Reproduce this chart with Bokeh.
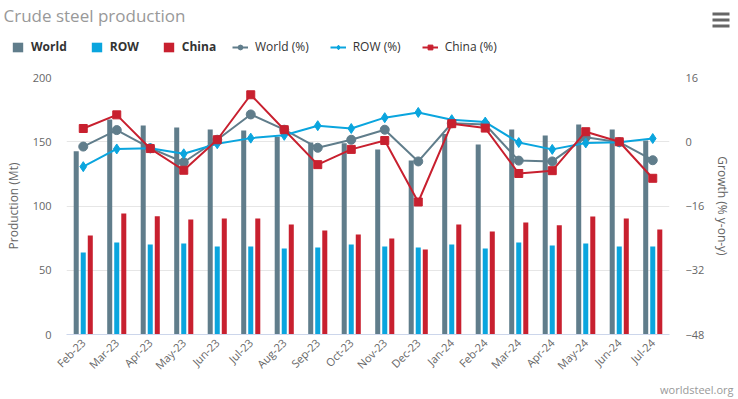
from bokeh.plotting import figure
from bokeh.models import (Range1d, LinearAxis, FactorRange, Legend, LegendItem,
                          Label, BoxAnnotation, FixedTicker, ColumnDataSource)
from bokeh.layouts import column
from bokeh.transform import dodge
from bokeh.embed import file_html
from bokeh.resources import INLINE
import math

months = ["Feb-23", "Mar-23", "Apr-23", "May-23", "Jun-23", "Jul-23", "Aug-23", "Sep-23",
          "Oct-23", "Nov-23", "Dec-23", "Jan-24", "Feb-24", "Mar-24", "Apr-24", "May-24",
          "Jun-24", "Jul-24"]
world = [142.6, 167.3, 162.6, 161.1, 159.5, 158.7, 153.6, 149.4, 148.9, 144.0, 135.4,
         156.0, 147.9, 159.5, 154.9, 163.4, 159.5, 151.0]
row = [63.8, 71.6, 70.0, 70.8, 68.5, 68.5, 66.9, 67.7, 70.0, 68.5, 67.7, 70.0, 66.9,
       71.6, 69.3, 70.8, 68.5, 68.5]
china = [77.0, 94.2, 92.1, 89.5, 90.3, 90.3, 85.6, 80.9, 77.8, 74.7, 66.1, 85.6, 80.2,
         87.2, 85.1, 91.8, 90.3, 81.7]
world_pct = [-1.2, 2.9, -1.6, -5.1, 0.5, 6.8, 3.0, -1.5, 0.5, 3.0, -4.9, 4.6, 4.3,
             -4.7, -4.9, 1.1, -0.1, -4.6]
row_pct = [-6.2, -1.8, -1.6, -3.0, -0.5, 0.9, 1.6, 4.0, 3.3, 6.0, 7.3, 5.5, 4.9,
           -0.2, -1.9, -0.3, -0.1, 0.8]
china_pct = [3.3, 6.7, -1.7, -7.1, 0.5, 11.7, 3.0, -5.7, -1.9, 0.3, -15.0, 4.5, 3.4,
             -7.9, -7.2, 2.5, 0.0, -9.1]
left_ticks = [0, 50, 100, 150, 200]
right_ticks = [-48, -32, -16, 0, 16]

C_WORLD = "#607d8b"
C_ROW = "#0aa5de"
C_CHINA = "#c8202f"
FONT = "Open Sans"

W = 738
HEAD_H, MAIN_H, FOOT_H = 69, 311, 19
FL, FR = 66, 669          # frame left/right on the canvas
MAIN_TOP = 8              # gap above the frame inside the main figure
FRAME_H = 257             # frame height (canvas y 77..334)


def bare(fig):
    fig.min_border_left = fig.min_border_right = 0
    fig.min_border_top = fig.min_border_bottom = 0
    fig.outline_line_color = None
    fig.xgrid.visible = False
    fig.ygrid.visible = False
    if "frame_align" in fig.properties():
        fig.frame_align = False


# ---------------- header: title, legend, menu icon ----------------
head = figure(width=W, height=HEAD_H, x_range=Range1d(0, W), y_range=Range1d(HEAD_H, 0),
              x_axis_type=None, y_axis_type=None, output_backend="svg",
              toolbar_location=None, min_border=0)
bare(head)

# legend proxies: one point each, lying outside the visible area
OFF = [-1000]
hw = head.vbar(x=OFF, top=OFF, width=1, color=C_WORLD, line_color=None)
hr = head.vbar(x=OFF, top=OFF, width=1, color=C_ROW, line_color=None)
hc = head.vbar(x=OFF, top=OFF, width=1, color=C_CHINA, line_color=None)
hlw = head.line(x=OFF, y=OFF, color=C_WORLD, line_width=2)
hmw = head.scatter(x=OFF, y=OFF, marker="circle", size=8, color=C_WORLD)
hlr = head.line(x=OFF, y=OFF, color=C_ROW, line_width=2)
hmr = head.scatter(x=OFF, y=OFF, marker="diamond", size=8, color=C_ROW)
hlc = head.line(x=OFF, y=OFF, color=C_CHINA, line_width=2)
hmc = head.scatter(x=OFF, y=OFF, marker="square", size=8, color=C_CHINA)

leg1 = Legend(items=[LegendItem(label="World", renderers=[hw]),
                     LegendItem(label="ROW", renderers=[hr]),
                     LegendItem(label="China", renderers=[hc])],
              orientation="horizontal", location=(11, HEAD_H - 55),
              glyph_width=13, glyph_height=12, spacing=23, label_standoff=7,
              label_height=12,
              label_text_font=FONT, label_text_font_size="12px",
              label_text_font_style="bold", label_text_color="#333333",
              background_fill_alpha=0, border_line_color=None, padding=0, margin=0)
leg2 = Legend(items=[LegendItem(label="World (%)", renderers=[hlw, hmw]),
                     LegendItem(label="ROW (%)", renderers=[hlr, hmr]),
                     LegendItem(label="China (%)", renderers=[hlc, hmc])],
              orientation="horizontal", location=(232, HEAD_H - 55),
              glyph_width=16, glyph_height=12, spacing=21, label_standoff=7,
              label_height=12,
              label_text_font=FONT, label_text_font_size="12px",
              label_text_font_style="normal", label_text_color="#333333",
              background_fill_alpha=0, border_line_color=None, padding=0, margin=0)
head.add_layout(leg1, "center")
head.add_layout(leg2, "center")
head.add_layout(Label(x=3, y=15, text="Crude steel production", text_font=FONT,
                      text_font_size="17px", text_color="#999999",
                      text_baseline="middle"))
for top in [12, 18, 24]:
    head.add_layout(BoxAnnotation(left=712, right=729, top=top, bottom=top + 3,
                                  fill_color="#666666", fill_alpha=1, line_color=None))

# ---------------- main chart ----------------
src = ColumnDataSource(dict(m=months, world=world, row=row, china=china,
                            wp=world_pct, rp=row_pct, cp=china_pct))

p = figure(width=W, height=MAIN_H, x_range=FactorRange(*months), y_range=Range1d(0, 200),
           output_backend="svg", toolbar_location=None,
           min_border_left=FL, min_border_right=W - FR, min_border_top=MAIN_TOP,
           min_border_bottom=MAIN_H - MAIN_TOP - FRAME_H)
p.outline_line_color = None
if "frame_align" in p.properties():
    p.frame_align = False
p.extra_y_ranges = {"pct": Range1d(-48, 16)}

p.vbar(x=dodge("m", -0.21, range=p.x_range), top="world", width=0.15, source=src,
       color=C_WORLD, line_color=None)
p.vbar(x=dodge("m", 0.0, range=p.x_range), top="row", width=0.15, source=src,
       color=C_ROW, line_color=None)
p.vbar(x=dodge("m", 0.21, range=p.x_range), top="china", width=0.15, source=src,
       color=C_CHINA, line_color=None)

p.line("m", "wp", source=src, y_range_name="pct", color=C_WORLD, line_width=2)
p.scatter("m", "wp", source=src, y_range_name="pct", marker="circle", size=9,
          color=C_WORLD)
p.line("m", "rp", source=src, y_range_name="pct", color=C_ROW, line_width=2)
p.scatter("m", "rp", source=src, y_range_name="pct", marker="diamond", size=10,
          color=C_ROW)
p.line("m", "cp", source=src, y_range_name="pct", color=C_CHINA, line_width=2)
p.scatter("m", "cp", source=src, y_range_name="pct", marker="square", size=8,
          color=C_CHINA)


def style_axis(ax):
    ax.axis_line_color = None
    ax.major_tick_line_color = None
    ax.minor_tick_line_color = None
    ax.major_tick_out = 0
    ax.major_tick_in = 0
    ax.minor_tick_out = 0
    ax.minor_tick_in = 0
    ax.major_label_text_color = "#666666"
    ax.major_label_text_font = FONT
    ax.major_label_text_font_size = "11px"
    ax.axis_label_text_color = "#666666"
    ax.axis_label_text_font = FONT
    ax.axis_label_text_font_size = "12px"
    ax.axis_label_text_font_style = "normal"


ya = p.yaxis[0]
ya.ticker = FixedTicker(ticks=left_ticks)
ya.axis_label = "Production (Mt)"
style_axis(ya)
ya.major_label_standoff = 15
ya.axis_label_standoff = 8

ra = LinearAxis(y_range_name="pct", ticker=FixedTicker(ticks=right_ticks),
                axis_label="Growth (% y-on-y)")
style_axis(ra)
ra.major_label_standoff = 16
ra.axis_label_standoff = 7
p.add_layout(ra, "right")

xa = p.xaxis[0]
style_axis(xa)
xa.axis_line_color = "#ccd6eb"
xa.major_label_orientation = math.pi / 4
xa.major_label_standoff = 6

p.xgrid.grid_line_color = None
p.ygrid.grid_line_color = "#e6e6e6"
p.ygrid.ticker = FixedTicker(ticks=left_ticks)

# ---------------- footer: credit ----------------
foot = figure(width=W, height=FOOT_H, x_range=Range1d(0, W), y_range=Range1d(FOOT_H, 0),
              x_axis_type=None, y_axis_type=None, output_backend="svg",
              toolbar_location=None, min_border=0)
bare(foot)
foot.add_layout(Label(x=733, y=9, text="worldsteel.org", text_font=FONT,
                      text_font_size="11px", text_color="#999999", text_align="right",
                      text_baseline="middle"))

layout = column(head, p, foot, spacing=0)
html = file_html(layout, INLINE)
open("out.html", "w").write(html)
